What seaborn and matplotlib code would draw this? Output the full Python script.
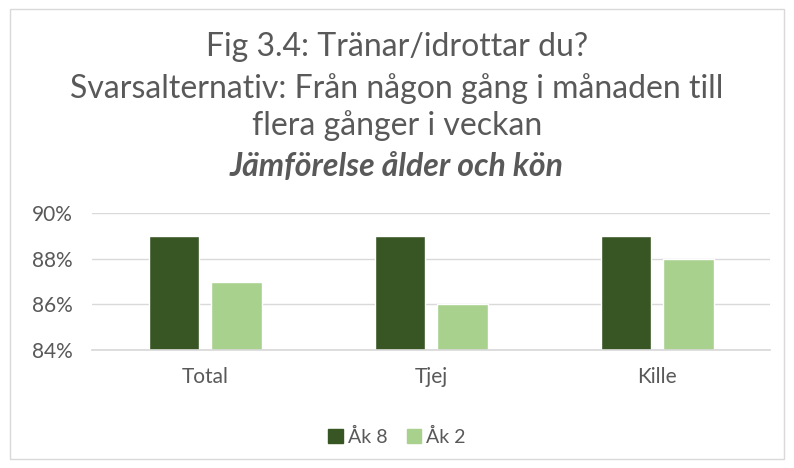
import matplotlib.pyplot as plt
import seaborn as sns
import pandas as pd
from matplotlib.patches import Rectangle
from matplotlib.ticker import FuncFormatter

# Data
categories = ["Total", "Tjej", "Kille"]
ak8 = [89, 89, 89]
ak2 = [87, 86, 88]
series_names = ["Åk 8", "Åk 2"]
colors = ["#375623", "#A9D18E"]

df = pd.DataFrame({
    "Kategori": categories * 2,
    "Serie": [series_names[0]] * 3 + [series_names[1]] * 3,
    "Andel": ak8 + ak2,
})

sns.set_theme(style="white")
plt.rcParams["font.family"] = ["Lato", "DejaVu Sans"]
text_color = "#595959"

fig = plt.figure(figsize=(7.94, 4.68), dpi=100)
ax = fig.add_axes([0.116, 0.252, 0.854, 0.293])

sns.barplot(data=df, x="Kategori", y="Andel", hue="Serie", palette=colors,
            width=0.555, gap=0.2, ax=ax, legend=False, saturation=1)

ax.set_ylim(84, 90)
ax.set_yticks([84, 86, 88, 90])
ax.yaxis.set_major_formatter(FuncFormatter(lambda v, p: f"{v:.0f}%"))
ax.grid(axis="y", color="#D9D9D9", linewidth=1)
ax.set_axisbelow(True)
for s in ["top", "right", "left"]:
    ax.spines[s].set_visible(False)
ax.spines["bottom"].set_color("#D9D9D9")
ax.set_xlabel("")
ax.set_ylabel("")
ax.tick_params(axis="both", colors=text_color, labelsize=15, length=0)
ax.tick_params(axis="x", pad=12)
ax.tick_params(axis="y", pad=14)

# Title, one line at a time
title_lines = ["Fig 3.4: Tränar/idrottar du?",
               "Svarsalternativ: Från någon gång i månaden till",
               "flera gånger i veckan"]
for line, ypix in zip(title_lines, [47, 89, 126]):
    fig.text(0.5, 1 - ypix / 468, line, ha="center", va="center",
             fontsize=23, color=text_color)
fig.text(0.5, 1 - 166 / 468, "Jämförelse ålder och kön", ha="center", va="center",
         fontsize=23, color=text_color, fontweight="bold", fontstyle="italic")

# Legend
handles = [Rectangle((0, 0), 1, 1, color=c) for c in colors]
fig.legend(handles, series_names, loc="center", bbox_to_anchor=(0.5, 0.066),
           ncol=2, frameon=False, fontsize=14, labelcolor=text_color,
           handlelength=0.75, handleheight=0.75, handletextpad=0.25, columnspacing=1.0)

# Chart border
fig.patches.append(Rectangle((0.013, 0.02), 0.974, 0.96, transform=fig.transFigure,
                             fill=False, edgecolor="#D9D9D9", linewidth=1))

fig.savefig("out.png", dpi=100)
